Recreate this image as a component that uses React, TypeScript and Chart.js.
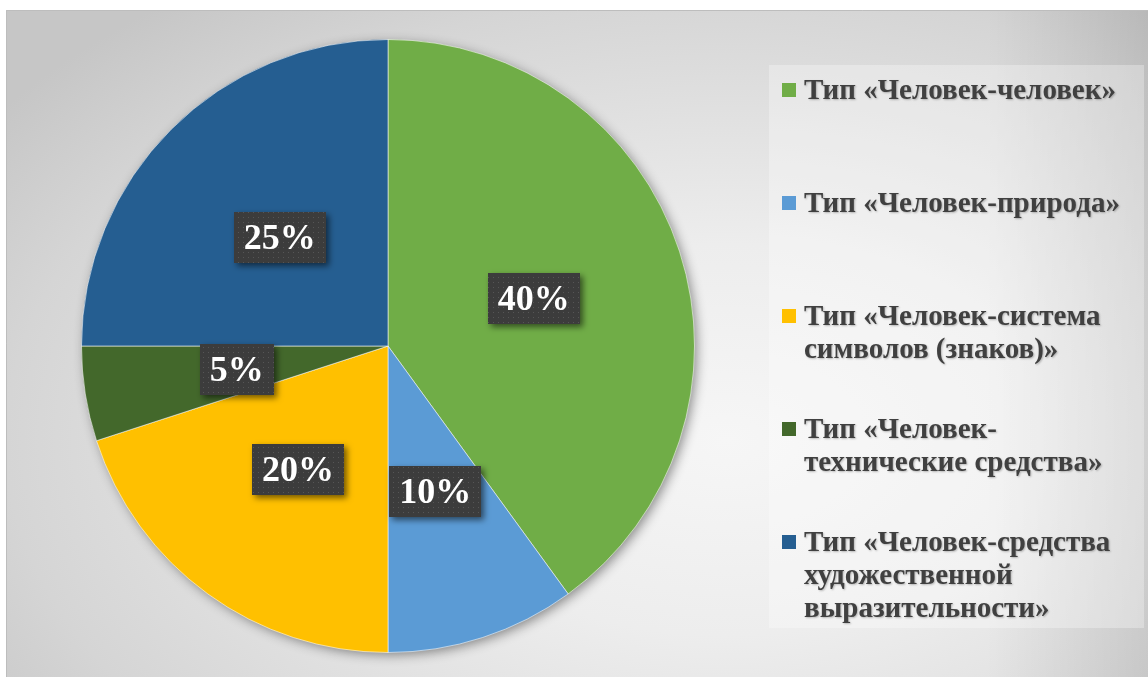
import React, { useEffect, useRef } from "react";
import { Chart, registerables } from "chart.js";

Chart.register(...registerables);

const categories = [
  "Тип «Человек-человек»",
  "Тип «Человек-природа»",
  "Тип «Человек-система символов (знаков)»",
  "Тип «Человек-технические средства»",
  "Тип «Человек-средства художественной выразительности»",
];
const legendLines = [
  ["Тип «Человек-человек»"],
  ["Тип «Человек-природа»"],
  ["Тип «Человек-система", "символов (знаков)»"],
  ["Тип «Человек-", "технические средства»"],
  ["Тип «Человек-средства", "художественной", "выразительности»"],
];
const values = [40, 10, 20, 5, 25];
const valueLabels = ["40%", "10%", "20%", "5%", "25%"];
const colors = ["#70AD47", "#5B9BD5", "#FFC000", "#43682B", "#255E91"];

const W = 1142;
const H = 667;
const SERIF = "'Liberation Serif', 'Times New Roman', serif";

function makePattern(ctx: CanvasRenderingContext2D) {
  const c = document.createElement("canvas");
  c.width = 5;
  c.height = 5;
  const p = c.getContext("2d")!;
  p.fillStyle = "#3c3c3c";
  p.fillRect(0, 0, 5, 5);
  p.fillStyle = "#565656";
  p.fillRect(2, 2, 1, 1);
  return ctx.createPattern(c, "repeat")!;
}

const backgroundPlugin = {
  id: "bg",
  beforeDraw(chart: any) {
    const ctx: CanvasRenderingContext2D = chart.ctx;
    ctx.save();
    ctx.fillStyle = "#c4c4c4";
    ctx.fillRect(0, 0, W, H);
    ctx.translate(720, 430);
    ctx.scale(1, 0.62);
    const g = ctx.createRadialGradient(0, 0, 0, 0, 0, 900);
    g.addColorStop(0, "#f6f6f6");
    g.addColorStop(0.35, "#ededed");
    g.addColorStop(0.8, "#d5d5d5");
    g.addColorStop(1, "#c6c6c6");
    ctx.fillStyle = g;
    ctx.fillRect(-1000, -1000, 2000, 2000);
    ctx.restore();
    ctx.save();
    const lg = ctx.createLinearGradient(980, 0, W, 0);
    lg.addColorStop(0, "rgba(0,0,0,0)");
    lg.addColorStop(1, "rgba(0,0,0,0.1)");
    ctx.fillStyle = lg;
    ctx.fillRect(980, 0, W - 980, H);
    ctx.strokeStyle = "#bdbdbd";
    ctx.lineWidth = 1;
    ctx.beginPath();
    ctx.moveTo(0.5, H);
    ctx.lineTo(0.5, 0.5);
    ctx.lineTo(W, 0.5);
    ctx.stroke();
    // legend box
    ctx.fillStyle = "rgba(255,255,255,0.3)";
    ctx.fillRect(763, 55, 375, 563);
    ctx.restore();
  },
  beforeDatasetsDraw(chart: any) {
    const meta = chart.getDatasetMeta(0);
    const arc = meta.data[0];
    if (!arc) return;
    const ctx: CanvasRenderingContext2D = chart.ctx;
    ctx.save();
    ctx.shadowColor = "rgba(0,0,0,0.45)";
    ctx.shadowBlur = 12;
    ctx.shadowOffsetX = 3;
    ctx.shadowOffsetY = 3;
    ctx.fillStyle = "#888";
    ctx.beginPath();
    ctx.arc(arc.x, arc.y, arc.outerRadius - 1, 0, Math.PI * 2);
    ctx.fill();
    ctx.restore();
  },
  afterDatasetsDraw(chart: any) {
    const ctx: CanvasRenderingContext2D = chart.ctx;
    const meta = chart.getDatasetMeta(0);
    const pattern = makePattern(ctx);
    ctx.save();
    ctx.font = `bold 36px ${SERIF}`;
    meta.data.forEach((el: any, i: number) => {
      const pos = el.tooltipPosition();
      const text = valueLabels[i];
      const tw = ctx.measureText(text).width;
      const bw = tw + 20;
      const bh = 51;
      const x = Math.round(pos.x - bw / 2);
      const y = Math.round(pos.y - bh / 2);
      ctx.save();
      ctx.shadowColor = "rgba(0,0,0,0.55)";
      ctx.shadowBlur = 6;
      ctx.shadowOffsetX = 3;
      ctx.shadowOffsetY = 3;
      ctx.fillStyle = pattern;
      ctx.fillRect(x, y, bw, bh);
      ctx.restore();
      ctx.fillStyle = "#ffffff";
      ctx.textAlign = "center";
      ctx.textBaseline = "middle";
      ctx.fillText(text, pos.x, pos.y + 2);
    });
    ctx.restore();

    // legend
    ctx.save();
    ctx.font = `bold 29px ${SERIF}`;
    ctx.textAlign = "left";
    ctx.textBaseline = "alphabetic";
    legendLines.forEach((lines, i) => {
      const top = 73 + i * 113;
      ctx.fillStyle = colors[i];
      ctx.fillRect(776, top, 14, 14);
      ctx.save();
      ctx.shadowColor = "rgba(0,0,0,0.25)";
      ctx.shadowBlur = 2;
      ctx.shadowOffsetX = 1;
      ctx.shadowOffsetY = 1;
      ctx.fillStyle = "#404040";
      lines.forEach((ln, j) => {
        ctx.fillText(ln, 798, top + 16 + j * 33);
      });
      ctx.restore();
    });
    ctx.restore();
  },
};

export default function App() {
  const ref = useRef<HTMLCanvasElement | null>(null);
  useEffect(() => {
    if (!ref.current) return;
    const chart = new Chart(ref.current, {
      type: "pie",
      data: {
        labels: categories,
        datasets: [
          {
            data: values,
            backgroundColor: colors,
            borderColor: "rgba(255,255,255,0.55)",
            borderWidth: 1,
          },
        ],
      },
      options: {
        responsive: false,
        animation: false,
        layout: { padding: { top: 29, bottom: 24, left: 75, right: 453 } },
        plugins: {
          legend: { display: false },
          tooltip: { enabled: false },
        },
      },
      plugins: [backgroundPlugin],
    });
    return () => chart.destroy();
  }, []);
  return (
    <div style={{ position: "absolute", left: 6, top: 10, width: W, height: H }}>
      <canvas ref={ref} width={W} height={H} style={{ width: W, height: H, display: "block" }} />
    </div>
  );
}
